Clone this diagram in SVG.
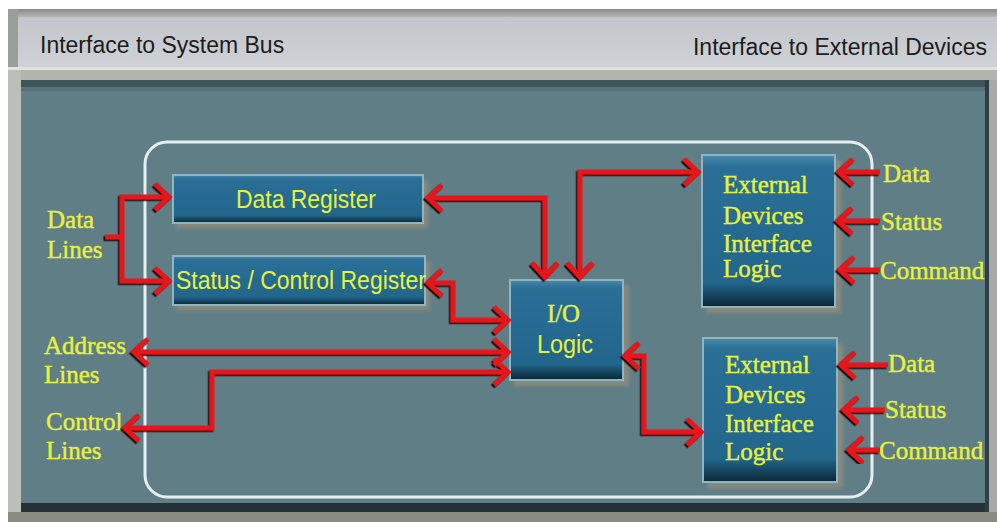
<svg xmlns="http://www.w3.org/2000/svg" width="997" height="522" viewBox="0 0 997 522">
<defs>
<style>
.hdr{font-family:"Liberation Sans",Arial,sans-serif;font-size:23px;fill:#1c1c1c}
.bx{font-family:"Liberation Sans",Arial,sans-serif;font-size:26px;fill:#e6f23c}
.sf{font-family:"Liberation Serif","Times New Roman",serif;font-size:25px;fill:#e8f23c;stroke:#e8f23c;stroke-width:0.4}
.ln{fill:none;stroke:#e5141a;stroke-width:5;stroke-linejoin:miter}
.both{marker-start:url(#ah);marker-end:url(#ah)}
.one{marker-end:url(#ah)}
.box{fill:url(#bg);stroke:#8fb4c2;stroke-width:2}
.shd{fill:#8f8d7c;opacity:0.85;filter:url(#blur)}
</style>
<linearGradient id="bg" x1="0" y1="0" x2="0" y2="1">
<stop offset="0" stop-color="#4a8aac"/>
<stop offset="0.08" stop-color="#2a6f96"/>
<stop offset="0.84" stop-color="#22668c"/>
<stop offset="1" stop-color="#0b2634"/>
</linearGradient>
<linearGradient id="hg" x1="0" y1="0" x2="0" y2="1">
<stop offset="0" stop-color="#c2c6ca"/>
<stop offset="1" stop-color="#ced2d6"/>
</linearGradient>
<linearGradient id="tg" x1="0" y1="0" x2="0" y2="1">
<stop offset="0" stop-color="#888a88"/>
<stop offset="1" stop-color="#b4b6b4"/>
</linearGradient>
<filter id="blur" x="-20%" y="-20%" width="140%" height="140%"><feGaussianBlur stdDeviation="2"/></filter>
<filter id="ds" x="-5%" y="-5%" width="110%" height="110%"><feDropShadow dx="-1.5" dy="1.5" stdDeviation="0.4" flood-color="#120404" flood-opacity="0.95"/></filter>
<marker id="ah" markerUnits="userSpaceOnUse" markerWidth="24" markerHeight="36" viewBox="-18 -18 24 36" refX="0" refY="0" orient="auto-start-reverse">
<path d="M-14,-13 L0,0 L-14,13" fill="none" stroke="#e5141a" stroke-width="5"/>
</marker>
</defs>

<g id="frame">
<rect x="0" y="0" width="997" height="522" fill="#ffffff"/>
<rect x="8" y="9" width="989" height="513" fill="#a7a9a4"/>
<rect x="8" y="9" width="989" height="8" fill="url(#tg)"/>
<rect x="8" y="9" width="10" height="60" fill="#9c9e9c"/>
<rect x="18" y="17" width="979" height="50" fill="url(#hg)"/>
<rect x="8" y="67" width="989" height="3" fill="#e4e4d6"/>
<rect x="8" y="70" width="989" height="10" fill="#b2b4ae"/>
<rect x="8" y="70" width="13" height="452" fill="#bcbeb8"/>
<rect x="21" y="80" width="968" height="432" fill="#607e86"/>
<rect x="21" y="80" width="968" height="7" fill="#3e555c"/>
<rect x="21" y="87" width="968" height="4" fill="#55717a"/>
<rect x="21" y="503" width="968" height="9" fill="#243238"/>
<rect x="985" y="80" width="4" height="432" fill="#2e3e44"/>
<rect x="8" y="512" width="989" height="10" fill="#8c8b82"/>
<text class="hdr" x="40" y="53">Interface to System Bus</text>
<text class="hdr" x="987" y="55" text-anchor="end">Interface to External Devices</text>
</g>

<g id="module-border">
<rect x="145" y="142" width="727" height="355" rx="22" ry="22" fill="none" stroke="#e6eef0" stroke-width="3"/>
</g>

<g id="data-register">
<rect class="shd" x="176" y="180" width="252" height="48"/>
<rect class="box" x="173" y="175" width="250" height="48"/>
<text class="bx" x="236" y="208" textLength="140" lengthAdjust="spacingAndGlyphs">Data Register</text>
</g>

<g id="status-control-register">
<rect class="shd" x="176" y="261" width="254" height="49"/>
<rect class="box" x="173" y="256" width="252" height="49"/>
<text class="bx" x="176" y="289" textLength="250" lengthAdjust="spacingAndGlyphs">Status / Control Register</text>
</g>

<g id="io-logic">
<rect class="shd" x="514" y="285" width="115" height="101"/>
<rect class="box" x="510" y="280" width="113" height="100"/>
<text class="sf" x="547" y="322" textLength="33" lengthAdjust="spacingAndGlyphs">I/O</text>
<text class="bx" x="537" y="353" textLength="56" lengthAdjust="spacingAndGlyphs">Logic</text>
</g>

<g id="ext-logic-1">
<rect class="shd" x="706" y="160" width="135" height="153"/>
<rect class="box" x="702" y="155" width="133" height="152"/>
<text class="sf" x="723" y="193">External</text>
<text class="sf" x="723" y="224">Devices</text>
<text class="sf" x="723" y="252">Interface</text>
<text class="sf" x="723" y="277">Logic</text>
</g>

<g id="ext-logic-2">
<rect class="shd" x="707" y="343" width="136" height="145"/>
<rect class="box" x="703" y="338" width="134" height="144"/>
<text class="sf" x="725" y="373">External</text>
<text class="sf" x="725" y="403">Devices</text>
<text class="sf" x="725" y="432">Interface</text>
<text class="sf" x="725" y="460">Logic</text>
</g>

<g id="labels">
<text class="sf" x="47" y="228">Data</text>
<text class="sf" x="47" y="258">Lines</text>
<text class="sf" x="44" y="354">Address</text>
<text class="sf" x="44" y="383">Lines</text>
<text class="sf" x="46" y="430">Control</text>
<text class="sf" x="46" y="459">Lines</text>
<text class="sf" x="883" y="182">Data</text>
<text class="sf" x="881" y="230">Status</text>
<text class="sf" x="880" y="279">Command</text>
<text class="sf" x="888" y="372">Data</text>
<text class="sf" x="885" y="418">Status</text>
<text class="sf" x="879" y="459">Command</text>
</g>

<g id="connectors" filter="url(#ds)">
<path class="ln" d="M105,237 H122"/>
<path class="ln both" d="M169,197 H122 V281 H169"/>
<path class="ln both" d="M428,198 H545 V277"/>
<path class="ln both" d="M580,277 V172 H698"/>
<path class="ln both" d="M428,283 H453 V320 H508"/>
<path class="ln both" d="M134,352 H508"/>
<path class="ln both" d="M508,372 H212 V428 H125"/>
<path class="ln both" d="M625,356 H644 V432 H701"/>
<path class="ln one" d="M880,172 H839"/>
<path class="ln one" d="M880,221 H838"/>
<path class="ln one" d="M880,270 H840"/>
<path class="ln one" d="M888,365 H841"/>
<path class="ln one" d="M885,410 H844"/>
<path class="ln one" d="M880,450 H849"/>
</g>
</svg>
